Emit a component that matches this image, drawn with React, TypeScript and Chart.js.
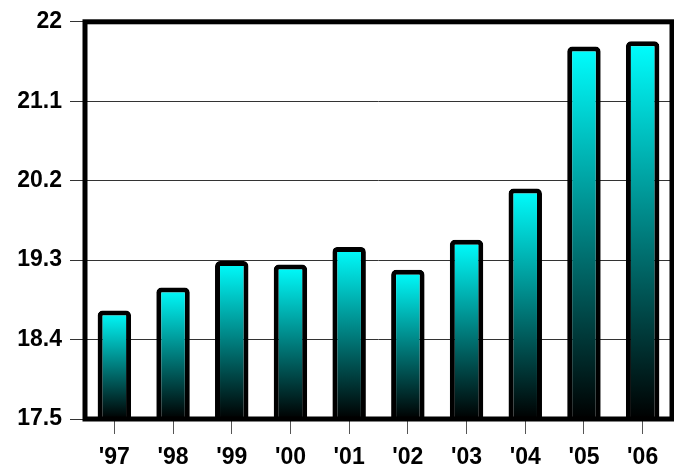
import { useEffect, useRef } from 'react';
import { Chart, registerables } from 'chart.js';

Chart.register(...registerables);

const categories = ["'97", "'98", "'99", "'00", "'01", "'02", "'03", "'04", "'05", "'06"];
const values = [18.73, 18.99, 19.29, 19.25, 19.45, 19.19, 19.53, 20.11, 21.72, 21.78];
const yTicks = [17.5, 18.4, 19.3, 20.2, 21.1, 22];
const yMin = 17.5;
const yMax = 22;

const tickFont = { family: '"Liberation Sans", Arial, sans-serif', size: 23, weight: 'bold' as const };

export default function App() {
  const ref = useRef<HTMLCanvasElement>(null);

  useEffect(() => {
    if (!ref.current) return;
    const frame = {
      id: 'frame',
      afterDatasetsDraw(chart: any) {
        const { ctx, chartArea: a } = chart;
        ctx.save();
        ctx.lineWidth = 5;
        ctx.strokeStyle = '#000';
        ctx.strokeRect(a.left, a.top, a.right - a.left, a.bottom - a.top);
        ctx.restore();
      },
    };

    const chart = new Chart(ref.current, {
      type: 'bar',
      data: {
        labels: categories,
        datasets: [
          {
            data: values,
            backgroundColor: (c: any) => {
              const ch = c.chart;
              const area = ch.chartArea;
              if (!area || c.raw === undefined) return '#00ffff';
              const top = ch.scales.y.getPixelForValue(c.raw);
              const g = ch.ctx.createLinearGradient(0, top, 0, area.bottom);
              g.addColorStop(0, '#00ffff');
              g.addColorStop(1, '#000000');
              return g;
            },
            borderColor: '#000',
            borderWidth: 5,
            borderRadius: 5,
            borderSkipped: false,
            barPercentage: 0.57,
            categoryPercentage: 1,
          },
        ],
      },
      options: {
        animation: false,
        responsive: false,
        devicePixelRatio: 1,
        layout: { padding: { top: 20, right: 2, left: 0, bottom: 0 } },
        plugins: { legend: { display: false }, tooltip: { enabled: false }, title: { display: false } },
        scales: {
          x: {
            grid: { drawOnChartArea: false, offset: false, tickLength: 15, color: '#555', lineWidth: 1 },
            border: { display: false },
            ticks: { font: tickFont, color: '#000', padding: 10, maxRotation: 0 },
            afterFit: (s: any) => {
              s.height = 51;
            },
          },
          y: {
            min: yMin,
            max: yMax,
            afterBuildTicks: (s: any) => {
              s.ticks = yTicks.map((v) => ({ value: v }));
            },
            grid: { color: '#333', lineWidth: 1, tickLength: 15 },
            border: { display: false },
            ticks: { font: tickFont, color: '#000', padding: 8, callback: (v: any) => String(v) },
            afterFit: (s: any) => {
              s.width = 85;
            },
          },
        },
      },
      plugins: [frame],
    });
    return () => chart.destroy();
  }, []);

  return (
    <div style={{ position: 'fixed', left: 0, top: 0, width: 674, height: 470, background: '#fff' }}>
      <canvas ref={ref} width={674} height={470} style={{ width: 674, height: 470, display: 'block' }} />
    </div>
  );
}
